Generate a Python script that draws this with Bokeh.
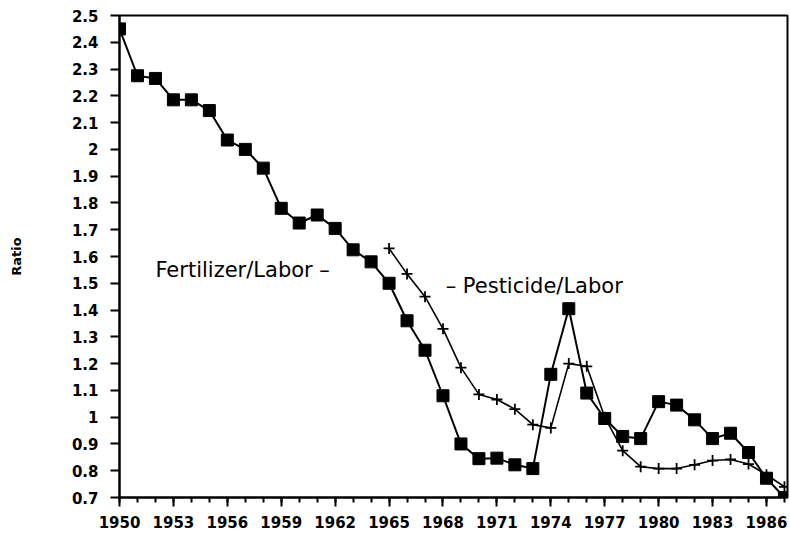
from bokeh.plotting import figure
from bokeh.models import FixedTicker, Range1d, ColumnDataSource, Label
from bokeh.embed import file_html
from bokeh.resources import INLINE

years = list(range(1950, 1988))
fertilizer_labor = [2.45, 2.275, 2.265, 2.185, 2.185, 2.145, 2.035, 2.0, 1.93, 1.78,
                    1.725, 1.755, 1.705, 1.625, 1.58, 1.50, 1.36, 1.25, 1.08, 0.90,
                    0.845, 0.847, 0.822, 0.808, 1.16, 1.405, 1.09, 0.995, 0.928, 0.92,
                    1.058, 1.045, 0.99, 0.92, 0.94, 0.868, 0.772, 0.70]

pest_years = list(range(1965, 1988))
pesticide_labor = [1.63, 1.535, 1.45, 1.33, 1.185, 1.085, 1.066, 1.03, 0.972, 0.96,
                   1.20, 1.19, 1.0, 0.875, 0.815, 0.808, 0.808, 0.822, 0.838, 0.842,
                   0.825, 0.785, 0.74]

x_major = [1950, 1953, 1956, 1959, 1962, 1965, 1968, 1971, 1974, 1977, 1980, 1983, 1986]
y_major = [0.7, 0.8, 0.9, 1.0, 1.1, 1.2, 1.3, 1.4, 1.5, 1.6, 1.7, 1.8, 1.9, 2.0,
           2.1, 2.2, 2.3, 2.4, 2.5]
y_tick_labels = {v: ("%g" % v) for v in y_major}

p = figure(width=790, height=534, output_backend="svg", toolbar_location=None,
           x_range=Range1d(1950, 1987.17), y_range=Range1d(0.7, 2.5),
           min_border_left=119, min_border_right=3, min_border_top=15,
           min_border_bottom=37)

p.background_fill_color = "white"
p.border_fill_color = "white"
p.outline_line_color = "black"
p.outline_line_width = 2
p.xgrid.visible = False
p.ygrid.visible = False

font = "DejaVu Sans"

p.xaxis.ticker = FixedTicker(ticks=x_major, minor_ticks=years)
p.yaxis.ticker = FixedTicker(ticks=y_major, minor_ticks=[])
p.yaxis.major_label_overrides = y_tick_labels

for ax in (p.xaxis[0], p.yaxis[0]):
    ax.axis_line_color = "black"
    ax.axis_line_width = 2
    ax.major_tick_line_color = "black"
    ax.major_tick_line_width = 2
    ax.major_tick_in = 0
    ax.major_tick_out = 9
    ax.minor_tick_line_color = "black"
    ax.minor_tick_line_width = 2
    ax.minor_tick_in = 0
    ax.minor_tick_out = 5
    ax.major_label_text_font = font
    ax.major_label_text_font_style = "bold"
    ax.major_label_text_font_size = "15px"
    ax.major_label_text_color = "black"

p.xaxis.major_label_standoff = 9
p.yaxis.major_label_standoff = 12

p.yaxis.axis_label = "Ratio"
p.yaxis.axis_label_text_font = font
p.yaxis.axis_label_text_font_style = "bold"
p.yaxis.axis_label_text_font_size = "13px"
p.yaxis.axis_label_text_color = "black"
p.yaxis.axis_label_standoff = 45

fert_src = ColumnDataSource(dict(x=years, y=fertilizer_labor))
pest_src = ColumnDataSource(dict(x=pest_years, y=pesticide_labor))

p.line("x", "y", source=fert_src, line_color="black", line_width=2)
p.scatter("x", "y", source=fert_src, marker="square", size=12,
          fill_color="black", line_color="black")

p.line("x", "y", source=pest_src, line_color="black", line_width=1.6)
p.scatter("x", "y", source=pest_src, marker="cross", size=11,
          line_color="black", line_width=1.8)

p.add_layout(Label(x=1952.0, y=1.551, text="Fertilizer/Labor \u2013",
                   text_font=font, text_font_size="21px", text_color="black",
                   text_baseline="middle", text_align="left"))
p.add_layout(Label(x=1968.15, y=1.488, text="\u2013 Pesticide/Labor",
                   text_font=font, text_font_size="21px", text_color="black",
                   text_baseline="middle", text_align="left"))

open("out.html", "w").write(file_html(p, INLINE))
